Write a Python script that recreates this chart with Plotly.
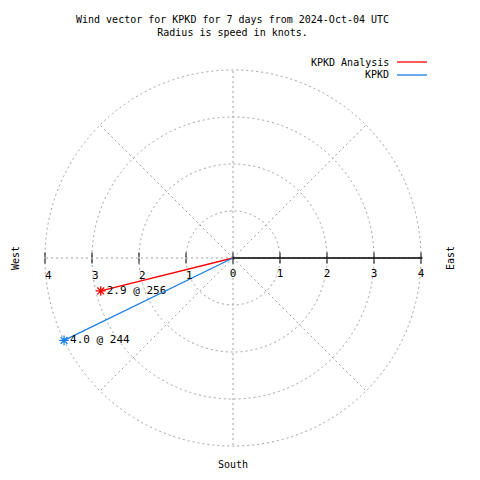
import plotly.graph_objects as go

# ---- data ----
series_names = ["KPKD Analysis", "KPKD"]
speeds = [2.9, 4.0]          # knots
directions = [256, 244]      # degrees (compass)
colors = ["#ff0000", "#1a7fe6"]
radial_ticks = [0, 1, 2, 3, 4]
left_ticks = [1, 2, 3, 4]
title_lines = ["Wind vector for KPKD for 7 days from 2024-Oct-04 UTC",
               "Radius is speed in knots."]

FONT = "DejaVu Sans Mono"
FS = 10
OFF = 8                      # page body margin
W = H = 464
cx, cy, R = 233 - OFF, 258 - OFF, 188
RMAX = 4.03
Rpx = R * RMAX / 4.0
dom_x = [(cx - Rpx) / W, (cx + Rpx) / W]
dom_y = [1 - (cy + Rpx) / H, 1 - (cy - Rpx) / H]


def px(x):
    return (x - OFF) / W


def py(y):
    return 1 - (y - OFF) / H


fig = go.Figure()

for name, s, d, c in zip(series_names, speeds, directions, colors):
    fig.add_trace(go.Scatterpolar(
        r=[0, s], theta=[d, d], mode="lines",
        line=dict(color=c, width=1.3), showlegend=False, hoverinfo="skip"))
    fig.add_trace(go.Scatterpolar(
        r=[s], theta=[d], mode="markers+text",
        marker=dict(symbol="asterisk-open", size=8, color=c, line=dict(color=c, width=1.3)),
        text=[f"{s:.1f} @ {d}"], textposition="middle right",
        textfont=dict(family=FONT, size=FS + 1, color="black"),
        showlegend=False, hoverinfo="skip"))

grid = dict(gridcolor="#a0a0a0", griddash="2px,3px", gridwidth=1)

common_ang = dict(rotation=90, direction="clockwise", showticklabels=False, ticks="",
                  showline=False)

fig.update_layout(polar=dict(
    domain=dict(x=dom_x, y=dom_y), bgcolor="white",
    angularaxis=dict(**common_ang, dtick=45, showgrid=True, **grid),
    radialaxis=dict(range=[0, RMAX], angle=0, tickvals=radial_ticks,
                    showline=True, linecolor="black", linewidth=1.3,
                    ticks="outside", ticklen=5, tickcolor="black", tickwidth=1.3,
                    side="clockwise", showgrid=True, **grid,
                    tickfont=dict(family=FONT, size=FS + 1, color="black")),
))


def overlay(angle, side, tickvals, labels, tickangle=None):
    ra = dict(range=[0, RMAX], angle=angle, tickvals=tickvals,
              showline=False, ticks="outside", ticklen=5, tickcolor="black",
              tickwidth=1.3, side=side, showgrid=False,
              showticklabels=labels,
              tickfont=dict(family=FONT, size=FS + 1, color="black"))
    if tickangle is not None:
        ra["tickangle"] = tickangle
    return dict(
        domain=dict(x=dom_x, y=dom_y), bgcolor="rgba(0,0,0,0)",
        angularaxis=dict(**common_ang, showgrid=False),
        radialaxis=ra,
    )


fig.update_layout(
    polar2=overlay(0, "counterclockwise", radial_ticks, False),
    polar3=overlay(180, "counterclockwise", left_ticks, True, tickangle=180),
    polar4=overlay(180, "clockwise", left_ticks, False),
)
for p in ["polar2", "polar3", "polar4"]:
    fig.add_trace(go.Scatterpolar(r=[], theta=[], subplot=p, showlegend=False))

txt = dict(xref="paper", yref="paper", showarrow=False,
           font=dict(family=FONT, size=FS, color="black"))
annotations = [
    dict(text="<br>".join(title_lines), x=px(232), y=py(12),
         xanchor="center", yanchor="top", **txt),
    dict(text="West", x=px(15), y=py(258), textangle=-90,
         xanchor="center", yanchor="middle", **txt),
    dict(text="East", x=px(450), y=py(258), textangle=-90,
         xanchor="center", yanchor="middle", **txt),
    dict(text="South", x=px(233), y=0,
         xanchor="center", yanchor="bottom", **txt),
]
shapes = []
for i, (name, c) in enumerate(zip(series_names, colors)):
    yy = py(62 + 13 * i)
    annotations.append(dict(text=name, x=px(391), y=yy,
                            xanchor="right", yanchor="middle", **txt))
    shapes.append(dict(type="line", xref="paper", yref="paper", x0=px(397), x1=px(427),
                       y0=yy, y1=yy, line=dict(color=c, width=1.3)))

fig.update_layout(
    width=W, height=H, margin=dict(l=0, r=0, t=0, b=0),
    paper_bgcolor="white", plot_bgcolor="white",
    annotations=annotations, shapes=shapes, showlegend=False,
)

fig.write_html("out.html")
